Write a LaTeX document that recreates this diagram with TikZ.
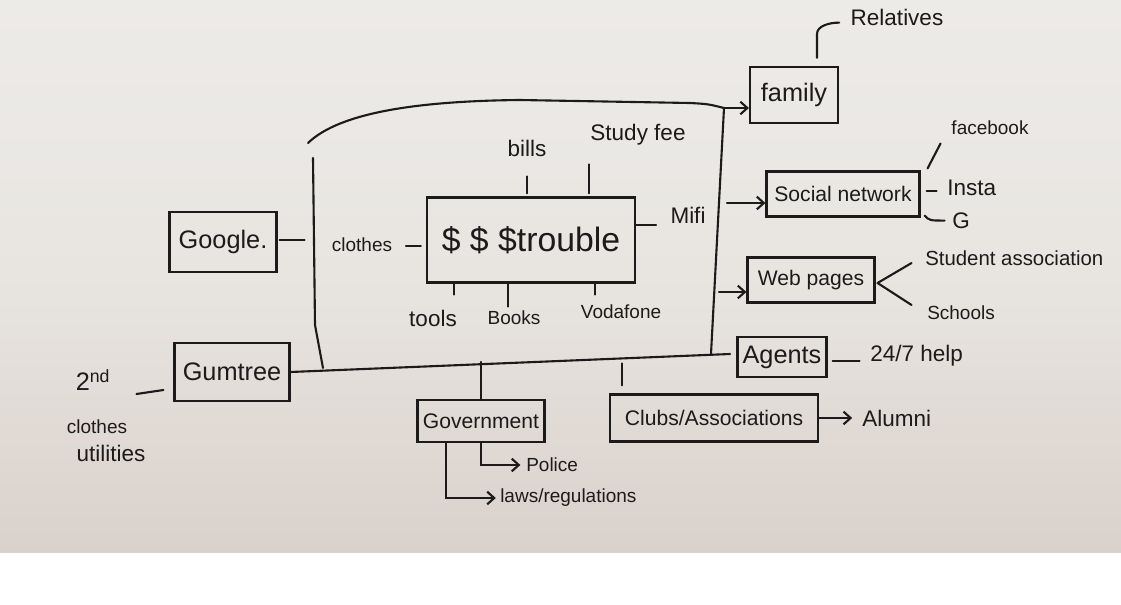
\documentclass[tikz,border=0pt]{standalone}
\usepackage{fontspec}
\setmainfont{Liberation Sans}
\usetikzlibrary{arrows.meta}
\definecolor{ink}{HTML}{1C1A1A}
\definecolor{papertop}{HTML}{EDEBE8}
\definecolor{papermid}{HTML}{E8E5E1}
\definecolor{paperbot}{HTML}{DAD1CB}
\tikzset{
  box/.style={
    draw = ink,
    line width = 1.5pt,
    inner sep = 0pt,
    text = ink,
    font = \fontsize{15}{17}\selectfont
  },
  bigbox/.style={
    box,
    font = \fontsize{18}{20}\selectfont
  },
  word/.style={
    inner sep = 0pt,
    text = ink,
    font = \fontsize{16}{18}\selectfont
  },
  smallword/.style={
    word,
    font = \fontsize{13.5}{16}\selectfont
  },
  pen/.style={
    draw = ink,
    line width = 1.5pt,
    line cap = round
  },
  arr/.style={
    pen,
    -{Straight Barb[length=5pt,width=9pt]}
  },
}

\begin{document}
\begin{tikzpicture}[x=0.025cm, y=-0.025cm]
\useasboundingbox (0,0) rectangle (1121,605);
\fill[white] (0,0) rectangle (1121,605);
\shade[top color=papertop, bottom color=paperbot, middle color=papermid] (0,0) rectangle (1121,552);

\node[box, minimum width=5.2cm, minimum height=2.125cm, font=\fontsize{24}{26}\selectfont] (trouble) at (531,240) {\$ \$ \$trouble};
\node[bigbox, minimum width=2.2cm, minimum height=1.4cm] (family) at (794,95) {family};
\node[box, minimum width=3.825cm, minimum height=1.125cm] (social) at (843,194) {Social network};
\node[box, minimum width=3.175cm, minimum height=1.125cm] (web) at (811,280) {Web pages};
\node[bigbox, minimum width=2.225cm, minimum height=1cm] (agents) at (782,357) {Agents};
\node[box, minimum width=5.2cm, minimum height=1.175cm] (clubs) at (714,418) {Clubs/Associations};
\node[box, minimum width=3.175cm, minimum height=1.05cm] (govt) at (481,421) {Government};
\node[bigbox, minimum width=2.875cm, minimum height=1.45cm] (gumtree) at (232,372) {Gumtree};
\node[bigbox, minimum width=2.675cm, minimum height=1.5cm] (google) at (223,242) {Google.};

\node[word] (relatives) at (897,17) {Relatives};
\node[smallword] (facebook) at (990,128) {facebook};
\node[word, anchor=west] (insta) at (947,188) {Insta};
\node[word, anchor=west] (g) at (952,221) {G};
\node[word, anchor=west, font=\fontsize{14.5}{17}\selectfont] (student) at (925,258) {Student association};
\node[smallword, anchor=west] (schools) at (927,313) {Schools};
\node[word, anchor=west] (help) at (870,356) {24/7 help};
\node[word, anchor=west] (alumni) at (862,418) {Alumni};
\node[smallword, anchor=west] (police) at (526,465) {Police};
\node[smallword, anchor=west] (laws) at (500,498) {laws/regulations};
\node[word] (bills) at (527,148) {bills};
\node[word] (studyfee) at (638,135) {Study fee};
\node[word] (mifi) at (688,215) {Mifi};
\node[smallword] (clothes) at (362,245) {clothes};
\node[word] (tools) at (433,318) {tools};
\node[smallword] (books) at (514,318) {Books};
\node[smallword] (vodafone) at (621,312) {Vodafone};
\node[word, font=\fontsize{18}{20}\selectfont] (second) at (93,380) {2\textsuperscript{nd}};
\node[smallword] (oldclothes) at (97,427) {clothes};
\node[word] (utilities) at (111,453) {utilities};

\coordinate (tl) at (308,143);
\coordinate (tr) at (724,108);
\coordinate (rb) at (711,354);
\coordinate (lt) at (313,158);
\coordinate (lb) at (323,368);
\coordinate (be) at (730,354);
\coordinate (sn) at (727,203);
\coordinate (wp) at (719,292);

\draw[pen] (tl) .. controls (340,112) and (420,101) .. (520,100) -- (690,103) .. controls (708,104) .. (tr);
\draw[arr] (tr) -- (tr -| family.west);
\draw[pen] (tr) -- (rb);
\draw[pen] (lt) -- (315,325) -- (lb);
\draw[pen] (gumtree.east) -- (be);
\draw[arr] (sn) -- (sn -| social.west);
\draw[arr] (wp) -- (wp -| web.west);

\draw[pen] (family.north -| 817,0) ++(0,-8) -- ++(0,-24) .. controls +(0,-8) and +(-10,0) .. ([xshift=-8pt, yshift=-4pt]relatives.west);
\draw[pen] (social.north east) ++(7,-2) -- ++(13,-25);
\draw[pen] (social.east) ++(6,-3) -- ++(10,0);
\draw[pen] (social.south east) ++(4,-2) .. controls +(5,5) .. ++(20,5);
\foreach \dy in {-20,22}
  \draw[pen] (web.east) ++(2,3) -- ++(34,\dy);
\draw[pen] (agents.east) ++(5,4) -- ++(27,0);
\draw[arr] (clubs.east) -- ([xshift=-7pt]alumni.west);
\draw[pen] (622,0 |- clubs.north) ++(0,-8) -- ++(0,-22);
\draw[pen] (govt.north) -- (govt.north |- 0,362);
\draw[arr] (446,0 |- govt.south) |- ([xshift=-3pt]laws.west);
\draw[arr] (481,0 |- govt.south) |- ([xshift=-4pt]police.west);

\foreach \x/\t in {527/17, 589/29}
  \draw[pen] (trouble.north -| \x,0) ++(0,-3) -- ++(0,-\t);
\foreach \x/\t in {454/11, 508/23, 595/11}
  \draw[pen] (trouble.south -| \x,0) -- ++(0,\t);
\draw[pen] (trouble.east) ++(0,-15) -- ++(20,0);
\draw[pen] (trouble.west) ++(-5,6) -- ++(-15,0);
\draw[pen] (google.east) ++(2,-2) -- ++(25,0);
\draw[pen] (gumtree.west) ++(-10,18) -- ++(-27,4);
\end{tikzpicture}
\end{document}
